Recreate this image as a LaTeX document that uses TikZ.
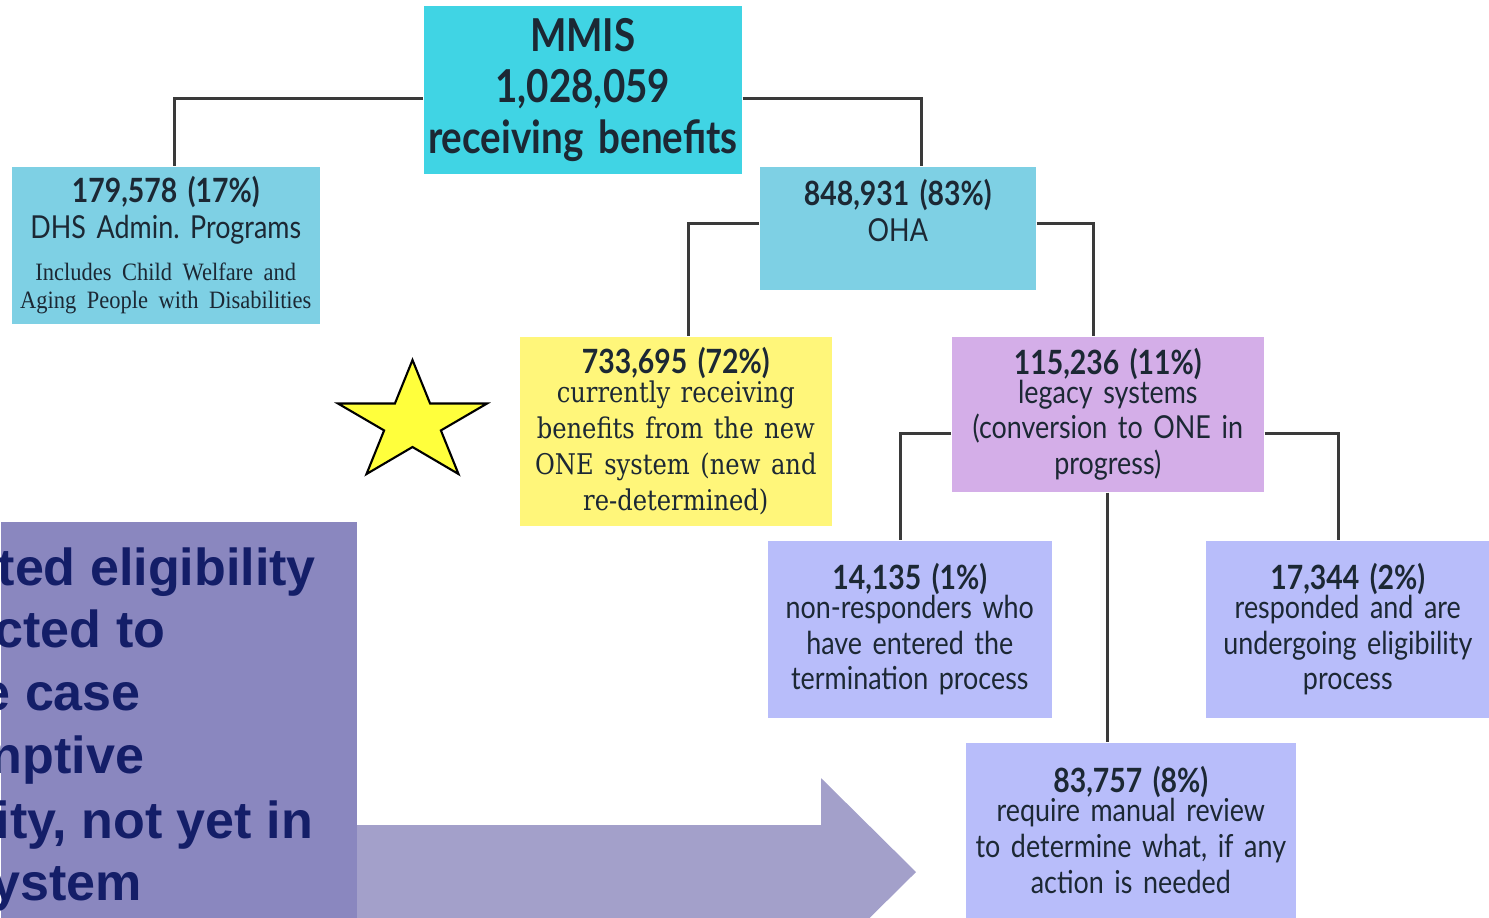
\documentclass[tikz,border=0pt]{standalone}
\usepackage{fontspec}
\usetikzlibrary{positioning,calc}

\newfontfamily\latofont{Lato}[FakeStretch=0.85, WordSpace=0.8]
\newfontfamily\slabfont{DejaVu Serif}[FakeStretch=0.85, WordSpace=0.8]
\newfontfamily\timesfont{Liberation Serif}[FakeStretch=0.9, WordSpace=0.75]
\newfontfamily\arialfont{Liberation Sans}

\definecolor{mmiscyan}{RGB}{64,212,228}
\definecolor{ohacyan}{RGB}{126,208,228}
\definecolor{oneyellow}{RGB}{255,246,122}
\definecolor{legacyviolet}{RGB}{212,174,232}
\definecolor{casesblue}{RGB}{184,189,250}
\definecolor{panelblue}{RGB}{138,135,191}
\definecolor{arrowblue}{RGB}{163,160,202}
\definecolor{navytext}{RGB}{20,30,104}
\definecolor{inkdark}{RGB}{28,40,52}
\definecolor{linegray}{RGB}{58,58,58}
\definecolor{staryellow}{RGB}{255,255,60}

\newcommand{\hdr}[1]{{\bfseries\fontsize{9.5}{10.2}\selectfont #1}}
\frenchspacing

\begin{document}
\begin{tikzpicture}[
        x=0.01cm, y=-0.01cm,
        box/.style={anchor=north west, inner sep=0pt, align=center, text=inkdark,
            font=\latofont\fontsize{9}{10.2}\selectfont},
        link/.style={draw=linegray, line width=0.9pt},
        notetext/.style={anchor=base west, inner sep=0pt, text=navytext,
            font=\arialfont\bfseries\fontsize{14.8}{17.9}\selectfont}
    ]
        \useasboundingbox (0,0) rectangle (1489,917);
        \clip (0,0) rectangle (1489,917);

        % arrow behind the side panel
        \fill[arrowblue] (330,825) -- (821,825) -- (821,778) -- (916,872)
            -- (821,966) -- (821,919) -- (330,919) -- cycle;

        \node[anchor=north west, fill=panelblue, inner sep=0pt,
            minimum width=3.56cm, minimum height=4.1cm] (panel) at (0,521) {};
        \foreach \frag/\xs/\yb [count=\i] in {ted eligibility/-3/585, cted to/-6/647,
            e case/-19/710, nptive/-10/773, {ity, not yet in}/-5/838, ystem/-9/900}
            \node[notetext] (note\i) at (\xs,\yb) {\frag};

        \draw[fill=staryellow, line width=0.6pt, line join=miter]
            (412.5,360) -- (430.1,403.5) -- (487,403.5) -- (440.9,430.4)
            -- (458.5,474) -- (412.5,447) -- (366.5,474) -- (384.1,430.4)
            -- (338,403.5) -- (394.9,403.5) -- cycle;

        \node[box, fill=mmiscyan, minimum width=3.18cm, text width=3.18cm, minimum height=1.68cm,
            font=\latofont\bfseries\fontsize{12.9}{14.5}\selectfont] (mmis) at (423,5)
            {MMIS\\1,028,059\\receiving benefits};

        \node[box, fill=ohacyan, minimum width=3.08cm, text width=3.08cm, minimum height=1.57cm] (dhs) at (11,166) {
            \hdr{179,578 (17\%)}\\
            DHS Admin. Programs\\[1.8pt]
            {\timesfont\fontsize{7.1}{8}\selectfont Includes Child Welfare and}\\[-2.2pt]
            {\timesfont\fontsize{7.1}{8}\selectfont Aging People with Disabilities}
        };

        \node[box, fill=ohacyan, minimum width=2.76cm, text width=2.76cm, minimum height=1.23cm] (oha) at (759,166) {
            \hdr{848,931 (83\%)}\\
            OHA\\~
        };

        \node[box, fill=oneyellow, minimum width=3.12cm, text width=3.12cm, minimum height=1.89cm] (newone) at (519,336) {
            \hdr{733,695 (72\%)}\\[-2pt]
            {\slabfont\fontsize{8.1}{10.2}\selectfont currently receiving}\\
            {\slabfont\fontsize{8.1}{10.2}\selectfont benefits from the new}\\
            {\slabfont\fontsize{8.1}{10.2}\selectfont ONE system (new and}\\
            {\slabfont\fontsize{8.1}{10.2}\selectfont re-determined)}
        };

        \node[box, fill=legacyviolet, minimum width=3.12cm, text width=3.12cm, minimum height=1.55cm] (legacy) at (951,336) {
            \hdr{115,236 (11\%)}\\[-2pt]
            legacy systems\\
            (conversion to ONE in\\
            progress)
        };

        \node[box, fill=casesblue, minimum width=2.84cm, text width=2.84cm, minimum height=1.77cm] (nonresp) at (767,540) {
            \hdr{14,135 (1\%)}\\[-2pt]
            non-responders who\\
            have entered the\\
            termination process
        };

        \node[box, fill=casesblue, minimum width=2.84cm, text width=2.84cm, minimum height=1.77cm] (resp) at (1205,540) {
            \hdr{17,344 (2\%)}\\[-2pt]
            responded and are\\
            undergoing eligibility\\
            process
        };

        \node[box, fill=casesblue, minimum width=3.30cm, text width=3.30cm, minimum height=1.75cm] (review) at (965,742) {
            \hdr{83,757 (8\%)}\\[-2pt]
            require manual review\\
            to determine what, if any\\
            action is needed
        };

        \draw[link] ($(mmis.west)+(0,9)$) -| ($(dhs.north)+(9,0)$);
        \draw[link] ($(mmis.east)+(0,9)$) -| ($(oha.north)+(24,0)$);
        \draw[link] ($(oha.west)+(0,-5)$) -| ($(newone.north)+(13,0)$);
        \draw[link] ($(oha.east)+(0,-5)$) -| ($(legacy.north)+(-14,0)$);
        \draw[link] ($(legacy.west)+(0,19)$) -| ($(nonresp.north)+(-9,0)$);
        \draw[link] ($(legacy.east)+(0,19)$) -| ($(resp.north)+(-9,0)$);
        \draw[link] (legacy.south) -- (legacy.south |- review.north);
    \end{tikzpicture}
\end{document}
